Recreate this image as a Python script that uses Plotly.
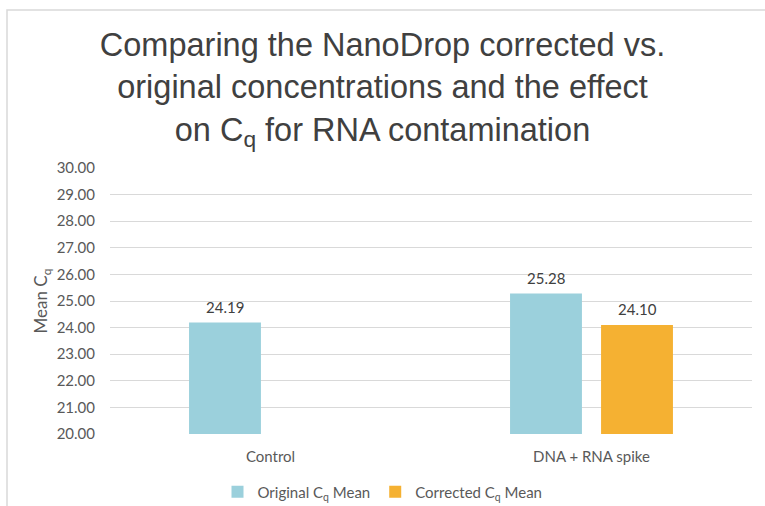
import plotly.graph_objects as go

categories = ["Control", "DNA + RNA spike"]
original_cq = [24.19, 25.28]
corrected_cq = [None, 24.10]
series_names = ["Original C<sub>q</sub> Mean", "Corrected C<sub>q</sub> Mean"]
y_ticks = [20, 21, 22, 23, 24, 25, 26, 27, 28, 29, 30]

BLUE = "#9bd0dc"
ORANGE = "#f5b132"
TXT = "#595959"
FONT = "Lato, 'Open Sans', sans-serif"

fig = go.Figure()
fig.add_trace(go.Bar(x=categories, y=original_cq, name=series_names[0],
                     marker=dict(color=BLUE, line=dict(width=0))))
fig.add_trace(go.Bar(x=categories, y=corrected_cq, name=series_names[1],
                     marker=dict(color=ORANGE, line=dict(width=0))))

# data labels just above each bar end
annotations = []
for idx, vals in enumerate([original_cq, corrected_cq]):
    for cat, v in zip(categories, vals):
        if v is None:
            continue
        annotations.append(dict(
            x=cat, y=v, xref="x", yref="y", text=f"{v:.2f}", showarrow=False,
            xshift=-45.5 if idx == 0 else 45.5,
            yanchor="bottom", yshift=5,
            font=dict(family=FONT, size=15, color="#404040")))

fig.update_layout(
    width=765, height=506,
    margin=dict(l=110, r=13, t=168, b=72, autoexpand=False),
    paper_bgcolor="white", plot_bgcolor="white",
    barmode="group", bargap=0.433, bargroupgap=0.21,
    annotations=annotations,
    title=dict(
        text="Comparing the NanoDrop corrected vs.<br>original concentrations and the effect<br>on C<sub>q</sub> for RNA contamination",
        x=0.5, xref="container", xanchor="center",
        y=0.889, yref="container", yanchor="top",
        font=dict(family="'Liberation Sans', Arial, sans-serif", size=32.5, color="#404040")),
    font=dict(family=FONT, size=15, color=TXT),
    showlegend=True,
    legend=dict(orientation="h", x=0.5, xref="container", xanchor="center",
                y=(434 - 492) / 266, yref="paper", yanchor="middle",
                font=dict(family=FONT, size=15, color=TXT),
                itemwidth=30, traceorder="normal"),
    xaxis=dict(showline=False, showgrid=False, ticks="", ticklabelstandoff=12,
               tickfont=dict(size=15, color=TXT)),
    yaxis=dict(range=[20, 30], tickvals=y_ticks, ticktext=[f"{t:.2f}" for t in y_ticks],
               showgrid=True, gridcolor="#d9d9d9", gridwidth=1, zeroline=False,
               showline=False, ticks="", ticklabelstandoff=14,
               tickfont=dict(size=15, color=TXT),
               title=dict(text="Mean C<sub>q</sub>", font=dict(size=17, color=TXT), standoff=4)),
    shapes=[dict(type="rect", xref="paper", yref="paper",
                 x0=-103/642, x1=1.2, y0=-0.6, y1=(434-10)/266,
                 line=dict(color="#d9d9d9", width=1.5), fillcolor="rgba(0,0,0,0)", layer="below")],
)

fig.write_html("out.html", config={"displayModeBar": False},
               post_script="document.body.style.margin='0';document.body.style.overflow='hidden';")
